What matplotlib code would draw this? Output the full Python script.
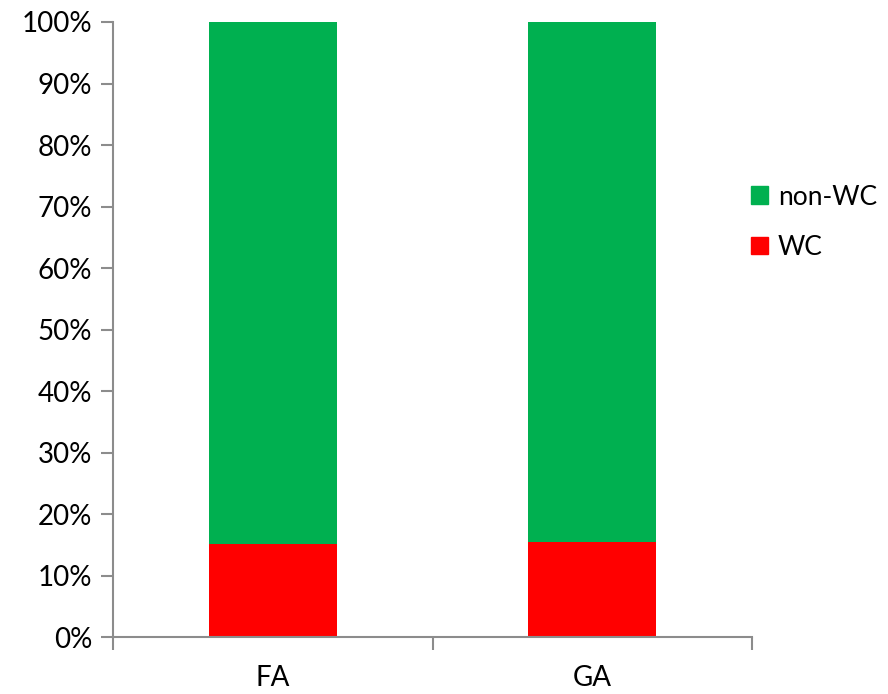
import matplotlib.pyplot as plt
from matplotlib.patches import Patch
from matplotlib.ticker import PercentFormatter

categories = ['FA', 'GA']
wc = [15.2, 15.4]
non_wc = [84.8, 84.6]

plt.rcParams['font.family'] = ['Lato', 'DejaVu Sans']
green = '#00b050'
red = '#ff0000'
grey = '#8c8c8c'

fig = plt.figure(figsize=(8.88, 6.94), dpi=100)
ax = fig.add_axes([0.1273, 0.0821, 0.7195, 0.8862])

x = range(len(categories))
ax.bar(x, wc, width=0.4, color=red)
ax.bar(x, non_wc, width=0.4, bottom=wc, color=green)

ax.set_xlim(-0.5, len(categories) - 0.5)
ax.set_ylim(0, 100)
ax.set_yticks(range(0, 101, 10))
ax.yaxis.set_major_formatter(PercentFormatter(decimals=0))

ax.set_xticks([-0.5, 0.5, 1.5])
ax.set_xticklabels([])
ax.set_xticks(list(x), minor=True)
ax.set_xticklabels(categories, minor=True)
ax.tick_params(axis='x', which='major', length=9, width=1.5, color=grey, direction='out')
ax.tick_params(axis='x', which='minor', length=0, pad=20, labelsize=20)
ax.tick_params(axis='y', length=9, width=1.5, color=grey, labelsize=20, pad=6)

for side in ['top', 'right']:
    ax.spines[side].set_visible(False)
for side in ['left', 'bottom']:
    ax.spines[side].set_color(grey)
    ax.spines[side].set_linewidth(1.5)

handles = [Patch(color=green, label='non-WC'), Patch(color=red, label='WC')]
fig.legend(handles=handles, loc='center left', bbox_to_anchor=(0.846, 0.68),
           frameon=False, fontsize=19, handlelength=0.65, handleheight=0.65,
           handletextpad=0.35, labelspacing=0.95, borderpad=0, borderaxespad=0)

fig.savefig('out.png', dpi=100)
